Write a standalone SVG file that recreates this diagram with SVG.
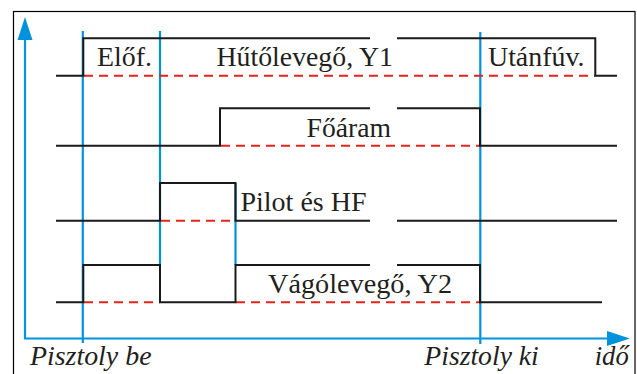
<svg xmlns="http://www.w3.org/2000/svg" width="637" height="374" viewBox="0 0 637 374">
<style>
.sig{fill:none;stroke:#1a1a1a;stroke-width:2;stroke-linejoin:miter;stroke-linecap:butt}
.ref{fill:none;stroke:#e1251b;stroke-width:2;stroke-dasharray:9 6}
.ax{fill:none;stroke:#0093dd;stroke-width:2.2}
.lbl{font-family:'Liberation Serif','Times New Roman',serif;font-size:27px;fill:#231f20}
.it{font-family:'Liberation Serif','Times New Roman',serif;font-size:27px;font-style:italic;fill:#231f20}
</style>
<rect x="13.5" y="11.5" width="621.5" height="380" fill="none" stroke="#000" stroke-width="1.2"/>
<g id="axes">
<line class="ax" x1="25" y1="338.5" x2="25" y2="40"/>
<path d="M17.5,40 L25,17 L32.5,40 Z" fill="#0093dd"/>
<line class="ax" x1="24" y1="338.5" x2="607" y2="338.5"/>
<path d="M607,331 L630,338.5 L607,346 Z" fill="#0093dd"/>
</g>
<g id="markers">
<line class="ax" x1="82.8" y1="31" x2="82.8" y2="343"/>
<line class="ax" x1="160" y1="31" x2="160" y2="265"/>
<line class="ax" x1="235.5" y1="183" x2="235.5" y2="265"/>
<line class="ax" x1="480.3" y1="32" x2="480.3" y2="344"/>
</g>
<g id="connectors">
<line class="ref" x1="84" y1="75.7" x2="595" y2="75.7"/>
<line class="ref" x1="221" y1="145.7" x2="480" y2="145.7"/>
<line class="ref" x1="161" y1="220.7" x2="235" y2="220.7"/>
<line class="ref" x1="84" y1="302.3" x2="160" y2="302.3"/>
<line class="ref" x1="236" y1="302.3" x2="480" y2="302.3"/>
</g>
<g id="huto">
<path class="sig" d="M56,75.7 H83.3 V38.3 H370 M397,38.3 H595.3 V75.7 H617"/>
<text class="lbl" x="97" y="65.5" textLength="55" lengthAdjust="spacingAndGlyphs">Előf.</text>
<text class="lbl" x="216.5" y="65.5" textLength="176.5" lengthAdjust="spacingAndGlyphs">Hűtőlevegő, Y1</text>
<text class="lbl" x="488" y="65.5" textLength="96.5" lengthAdjust="spacingAndGlyphs">Utánfúv.</text>
</g>
<g id="foaram">
<path class="sig" d="M56,145.7 H220 V108.3 H370 M397,108.3 H480 V145.7 H617"/>
<text class="lbl" x="306.5" y="136.5" textLength="84.5" lengthAdjust="spacingAndGlyphs">Főáram</text>
</g>
<g id="pilot">
<path class="sig" d="M56,220.7 H160 V183 H235.5 V220.7 H370 M397,220.7 H617"/>
<text class="lbl" x="240.5" y="211" textLength="126" lengthAdjust="spacingAndGlyphs">Pilot és HF</text>
</g>
<g id="vago">
<path class="sig" d="M56,302.3 H83.3 V265 H160 V302.3 H235.5 V265 H370 M397,265 H480 V302.3 H602"/>
<text class="lbl" x="268" y="293.3" textLength="184" lengthAdjust="spacingAndGlyphs">Vágólevegő, Y2</text>
</g>
<g id="labels">
<text class="it" x="30" y="365" textLength="121.5" lengthAdjust="spacingAndGlyphs">Pisztoly be</text>
<text class="it" x="424.3" y="365" textLength="114.5" lengthAdjust="spacingAndGlyphs">Pisztoly ki</text>
<text class="it" x="594.7" y="365" textLength="34" lengthAdjust="spacingAndGlyphs">idő</text>
</g>
</svg>
